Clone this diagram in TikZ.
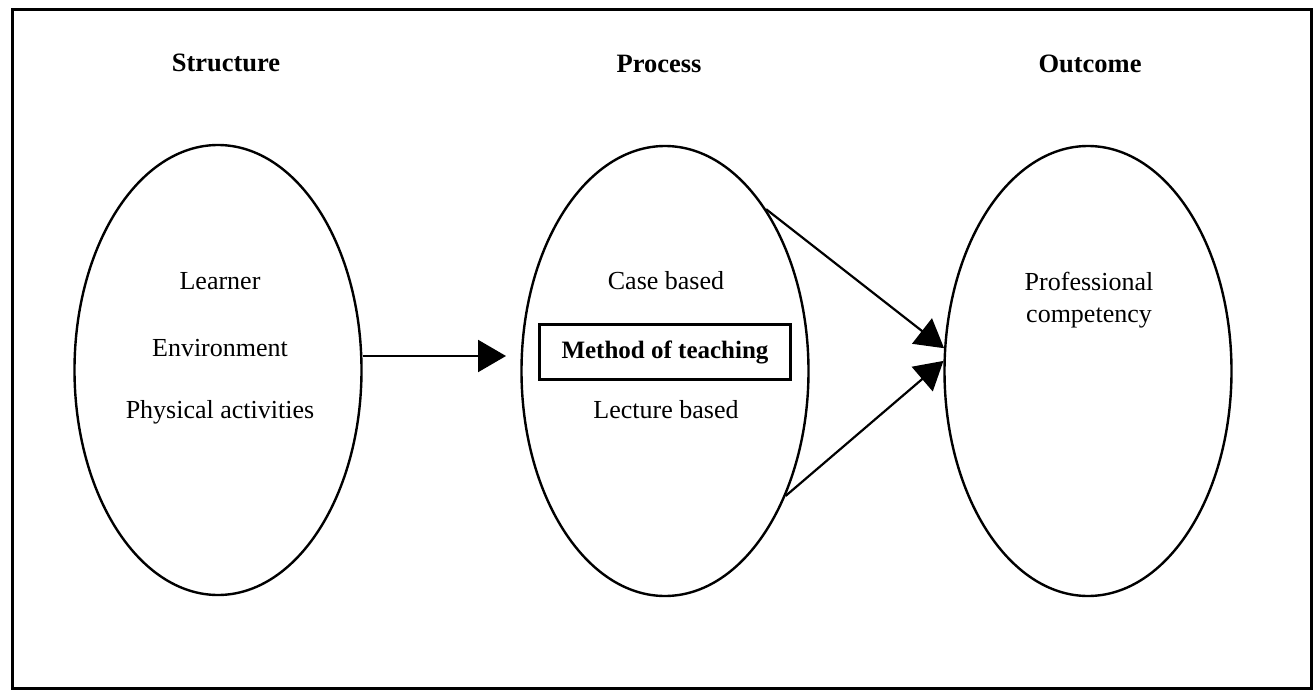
\documentclass[tikz,border=0pt]{standalone}
\usepackage{fontspec}
\setmainfont{Liberation Serif}
\usetikzlibrary{shapes.geometric,arrows.meta}
\begin{document}
\begin{tikzpicture}[x=1pt,y=-1pt,
  oval/.style={ellipse,draw,line width=2.4pt,minimum width=287pt,minimum height=450pt,inner sep=0pt},
  txt/.style={anchor=base,inner sep=0pt,font=\fontsize{26}{30}\selectfont},
  head/.style={anchor=base,inner sep=0pt,font=\fontsize{26.5}{30}\selectfont\bfseries},
  arr/.style={line width=2.2pt,-{Triangle[length=28pt,width=32pt]}},
  methodbox/.style={draw,line width=2.2pt,minimum width=251pt,minimum height=55pt,inner sep=0pt,font=\fontsize{25}{30}\selectfont\bfseries}]
\useasboundingbox (0,0) rectangle (1314,690);
\draw[line width=3pt] (12,10) rectangle (1311,688);
% ovals
\node[oval] (structE) at (218,370) {};
\node[oval] (processE) at (665,371) {};
\node[oval] (outcomeE) at (1088,371) {};
% headings
\node[head] (hS) at (226,72) {Structure};
\node[head] (hP) at (659,73) {Process};
\node[head] (hO) at (1090,73) {Outcome};
% structure texts
\node[txt] (learner) at (220,289) {Learner};
\node[txt] (env) at (220,356) {Environment};
\node[txt] (phys) at (220,418) {Physical activities};
% process texts
\node[txt] (caseb) at (666,289) {Case based};
\node[methodbox] (method) at (665,352) {Method of teaching};
\node[txt] (lect) at (666,418) {Lecture based};
% outcome texts
\node[txt] (prof) at (1089,290) {Professional};
\node[txt] (comp) at (1089,322) {competency};
% connectors
\coordinate (a1end) at (506,356);
\draw[arr] (structE.east |- a1end) -- (a1end);
\draw[arr] (processE.58.5) -- (outcomeE.171);
\draw[arr] (processE.314.3) -- (outcomeE.176);
\end{tikzpicture}
\end{document}
